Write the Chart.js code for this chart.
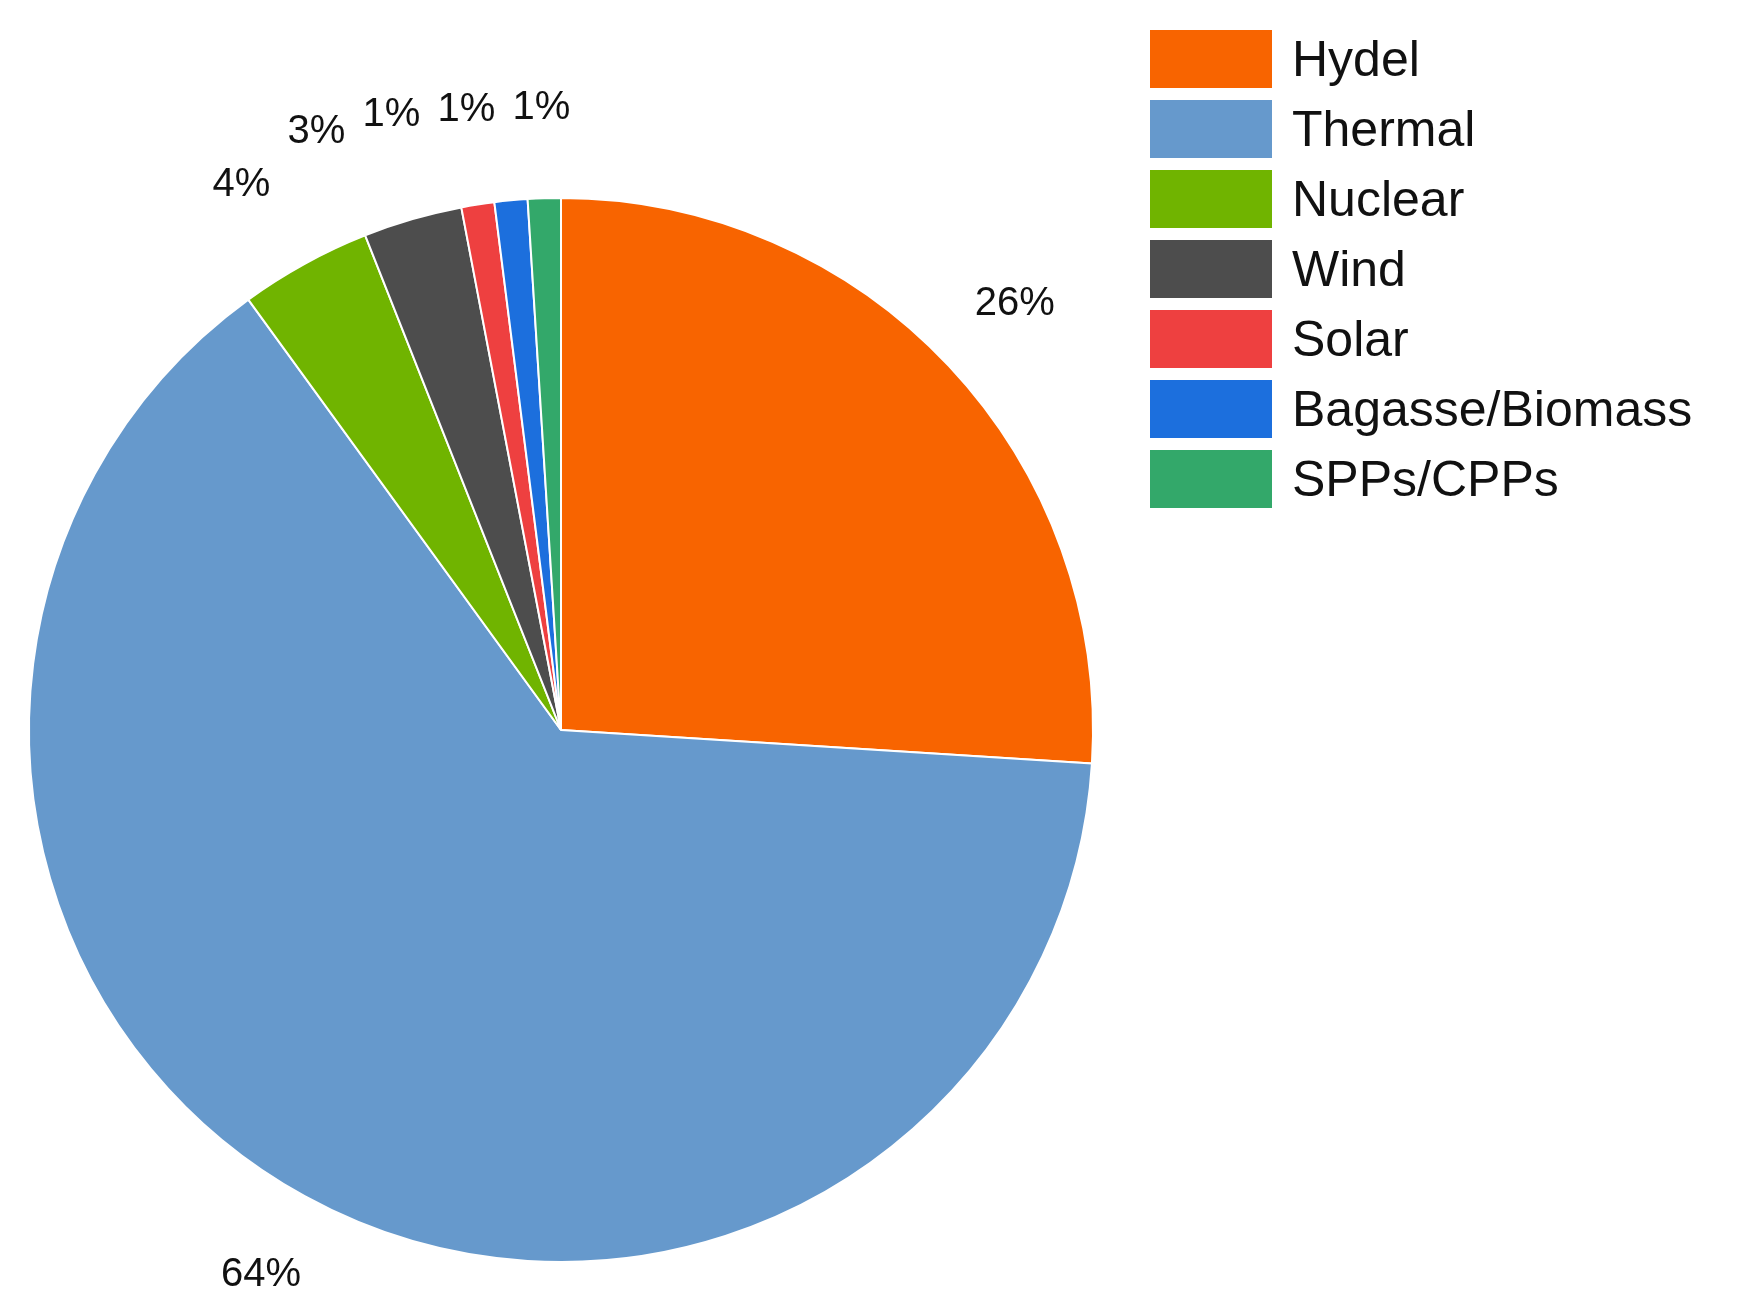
<!DOCTYPE html>
<html>
<head>
<meta charset="utf-8">
<script src="https://cdn.jsdelivr.net/npm/chart.js@4/dist/chart.umd.min.js"></script>
<style>
  body { margin: 0; background: #fff; }
  #wrap { position: relative; width: 1760px; height: 1313px; }
  #legend { position: absolute; left: 1150px; top: 24px; font-family: Arial, "Liberation Sans", sans-serif; font-size: 50px; color: #111; }
  .row { display: flex; align-items: center; height: 70px; }
  .box { width: 122px; height: 58px; margin-right: 20px; }
</style>
</head>
<body>
<div id="wrap">
  <canvas id="myChart" width="1760" height="1313"></canvas>
  <div id="legend"></div>
</div>
<script>
const labels = ["Hydel", "Thermal", "Nuclear", "Wind", "Solar", "Bagasse/Biomass", "SPPs/CPPs"];
const shares = [26, 64, 4, 3, 1, 1, 1];
const pctLabels = ["26%", "64%", "4%", "3%", "1%", "1%", "1%"];
const colors = ["#F86400", "#6699CC", "#70B400", "#4D4D4D", "#EE4040", "#1C6FDD", "#33A86A"];

let list = ``;
labels.map((item, i) => {
  list += `<div class="row"><div class="box" style="background:${colors[i]}"></div>${item}</div>`;
});
document.getElementById("legend").innerHTML = list;

const outsideLabels = {
  id: "outsideLabels",
  afterDraw(chart) {
    const ctx = chart.ctx;
    const arcs = chart.getDatasetMeta(0).data;
    const pos = arcs.map((arc) => {
      const mid = (arc.startAngle + arc.endAngle) / 2;
      const r = arc.outerRadius * 1.17;
      return { x: arc.x + Math.cos(mid) * r, y: arc.y + Math.sin(mid) * r };
    });
    // spread the small slices near the top so labels do not overlap
    for (let i = pos.length - 2; i >= 2; i--) {
      pos[i].x = Math.min(pos[i].x, pos[i + 1].x - 75);
    }
    ctx.save();
    ctx.font = "40px Arial, 'Liberation Sans', sans-serif";
    ctx.fillStyle = "#111";
    ctx.textAlign = "center";
    ctx.textBaseline = "middle";
    pos.forEach((p, i) => ctx.fillText(pctLabels[i], p.x, p.y));
    ctx.restore();
  },
};

new Chart(document.getElementById("myChart"), {
  type: "pie",
  data: {
    labels: labels,
    datasets: [
      {
        data: shares,
        backgroundColor: colors,
        borderColor: "#fff",
        borderWidth: 2,
      },
    ],
  },
  options: {
    responsive: false,
    animation: false,
    layout: { padding: { left: 28, top: 197, right: 666, bottom: 50 } },
    plugins: { legend: { display: false }, tooltip: { enabled: false } },
  },
  plugins: [outsideLabels],
});
</script>
</body>
</html>
